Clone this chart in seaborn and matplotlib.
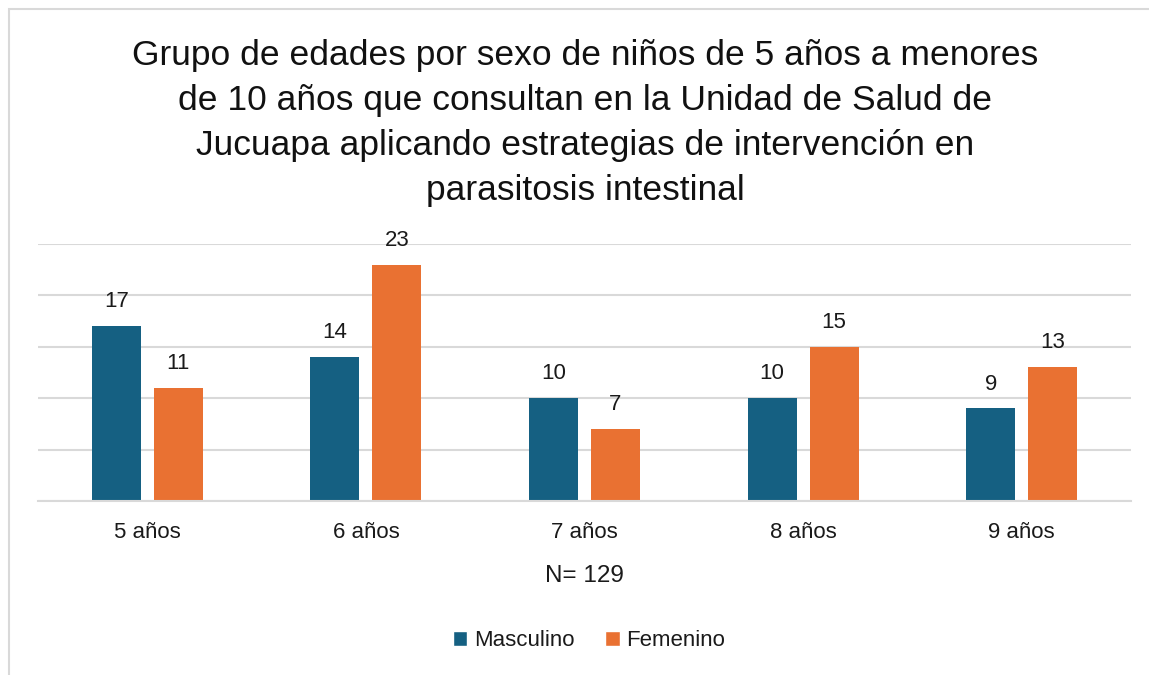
import matplotlib
matplotlib.use("Agg")
import matplotlib.pyplot as plt
import seaborn as sns
import pandas as pd
from matplotlib.patches import Rectangle, Patch

categories = ["5 años", "6 años", "7 años", "8 años", "9 años"]
masculino = [17, 14, 10, 10, 9]
femenino = [11, 23, 7, 15, 13]
series_names = ["Masculino", "Femenino"]
title = ("Grupo de edades por sexo de niños de 5 años a menores\n"
         "de 10 años que consultan en la Unidad de Salud de\n"
         "Jucuapa aplicando estrategias de intervención en\n"
         "parasitosis intestinal")
xlabel = "N= 129"

colors = ["#156082", "#E97132"]

df = pd.DataFrame({
    "Edad": categories * 2,
    "Sexo": [series_names[0]] * len(categories) + [series_names[1]] * len(categories),
    "Valor": masculino + femenino,
})

sns.set_theme(style="white")
plt.rcParams["font.family"] = ["Liberation Sans", "DejaVu Sans"]

W, H = 1149, 675
fig = plt.figure(figsize=(W / 100, H / 100), dpi=100)
ax = fig.add_axes([38 / W, (H - 501) / H, (1131 - 38) / W, (501 - 244) / H])

sns.barplot(data=df, x="Edad", y="Valor", hue="Sexo", palette=colors,
            width=0.567, gap=0.21, ax=ax, legend=False, saturation=1,
            edgecolor="none", linewidth=0)

ax.set_xlim(-0.5, len(categories) - 0.5)
ax.set_ylim(0, 25)
ax.set_yticks([0, 5, 10, 15, 20, 25])
ax.yaxis.grid(True, color="#d9d9d9", linewidth=1.5)
ax.set_axisbelow(True)
ax.set_yticklabels([])
ax.tick_params(axis="y", length=0)
ax.tick_params(axis="x", length=0, pad=15, labelsize=16, labelcolor="#1a1a1a")
for s in ["left", "right", "top"]:
    ax.spines[s].set_visible(False)
ax.spines["bottom"].set_color("#d9d9d9")
ax.spines["bottom"].set_linewidth(1.5)
ax.set_ylabel("")
ax.set_xlabel(xlabel, fontsize=17.5, color="#1a1a1a", labelpad=16)

for cont in ax.containers:
    ax.bar_label(cont, padding=10, fontsize=16, color="#1a1a1a")

fig.text(585 / W, 1 - 123 / H, title, ha="center", va="center",
         fontsize=25.5, color="#111111", linespacing=1.46)

handles = [Patch(facecolor=c, label=n) for c, n in zip(colors, series_names)]
fig.legend(handles=handles, loc="center", bbox_to_anchor=(589 / W, 1 - 641 / H),
           ncol=2, frameon=False, fontsize=16, handlelength=0.65, handleheight=0.65,
           handletextpad=0.3, columnspacing=1.4, labelcolor="#1a1a1a")

fig.patches.append(Rectangle((9 / W, -0.1), 1.2, (1 - 9 / H) + 0.1, transform=fig.transFigure,
                             fill=False, edgecolor="#d9d9d9", linewidth=1.5, zorder=0))

fig.savefig("out.png", dpi=100)
